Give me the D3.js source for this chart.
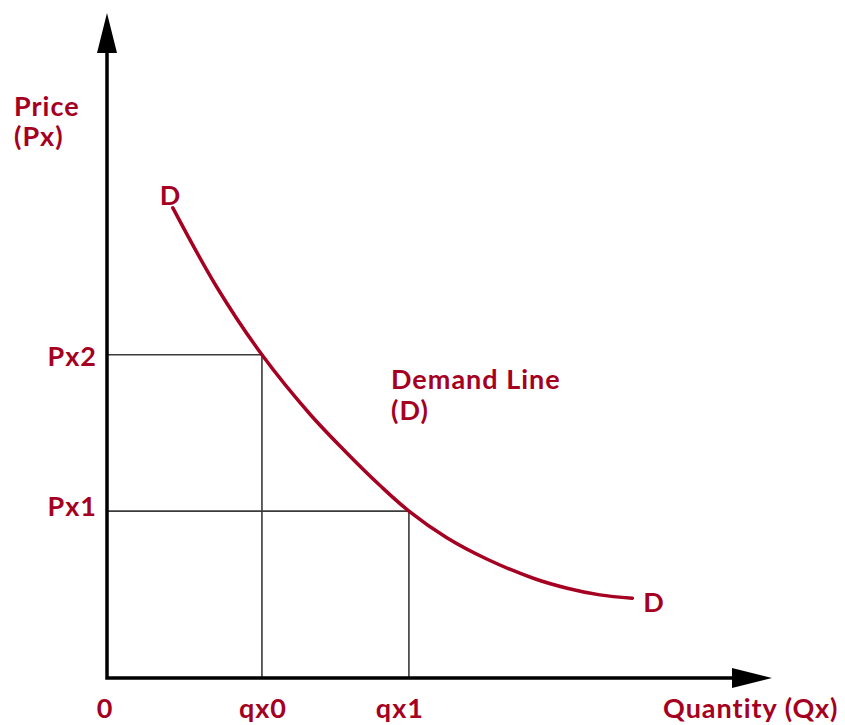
<!DOCTYPE html>
<html>
<head>
  <meta charset="utf-8">
  <script src="https://d3js.org/d3.v7.min.js"></script>
  <style>
    body { margin:0; background:#fff; }
    text { font-family: Lato, "Open Sans", sans-serif; font-weight: 700; fill: #a50021; letter-spacing: 1px; }
  </style>
</head>
<body>
  <div id="chart"></div>
  <script>
    // demand curve (quantity / price, 0-100 units)
    const demandQ = [9.9, 16.5, 23.3, 30.5, 35.8, 41.1, 45.4, 51.1, 57.1, 64.1, 69.2, 74.1, 79.0];
    const demandP = [70.7, 58.8, 48.6, 39.7, 34.1, 28.9, 25.1, 21.1, 17.9, 15.0, 13.5, 12.5, 12.0];

    // reference points on the curve
    const refQ = [23.3, 45.4];
    const refP = [48.6, 25.1];
    const qLabels = ['qx0', 'qx1'];
    const pLabels = ['Px2', 'Px1'];

    const width = 845, height = 725;
    const red = '#a50021';

    const x = d3.scaleLinear().domain([0, 100]).range([107, 772]);
    const y = d3.scaleLinear().domain([0, 100]).range([678, 13]);

    const svg = d3.select('#chart').append('svg')
      .attr('width', width)
      .attr('height', height);

    // guide lines
    const guides = svg.append('g')
      .attr('stroke', '#3a3a3a')
      .attr('stroke-width', 1.6)
      .attr('fill', 'none');

    refQ.forEach((q, i) => {
      guides.append('path')
        .attr('d', `M${x(0)},${y(refP[i])}H${x(q)}V${y(0)}`);
    });

    // axes with arrow heads
    const arrowLen = 40, arrowHalf = 10;
    const axes = svg.append('g');
    axes.append('path')
      .attr('d', `M${x(0)},${y(100) + arrowLen}V${y(0)}H${x(100) - arrowLen}`)
      .attr('fill', 'none')
      .attr('stroke', '#000')
      .attr('stroke-width', 3.5)
      .attr('stroke-linejoin', 'miter');
    axes.append('path')
      .attr('d', `M${x(0)},${y(100)}L${x(0) + arrowHalf},${y(100) + arrowLen}L${x(0) - arrowHalf},${y(100) + arrowLen}Z`)
      .attr('fill', '#000');
    axes.append('path')
      .attr('d', `M${x(100)},${y(0)}L${x(100) - arrowLen},${y(0) - arrowHalf}L${x(100) - arrowLen},${y(0) + arrowHalf}Z`)
      .attr('fill', '#000');

    // demand curve
    const line = d3.line()
      .x(d => x(d[0]))
      .y(d => y(d[1]))
      .curve(d3.curveCatmullRom.alpha(0.5));

    svg.append('path')
      .datum(demandQ.map((q, i) => [q, demandP[i]]))
      .attr('d', line)
      .attr('fill', 'none')
      .attr('stroke', red)
      .attr('stroke-width', 3.5)
      .attr('stroke-linecap', 'round');

    // labels
    const fs = 27;
    const labels = svg.append('g').style('font-size', fs + 'px');

    labels.append('text').attr('x', 14).attr('y', 116).text('Price');
    labels.append('text').attr('x', 14).attr('y', 146).text('(Px)');

    pLabels.forEach((t, i) => {
      labels.append('text')
        .attr('x', x(0) - 10)
        .attr('y', y(refP[i]) + (i === 0 ? 11 : 5))
        .attr('text-anchor', 'end')
        .text(t);
    });

    labels.append('text')
      .attr('x', x(0) - 2).attr('y', 718)
      .attr('text-anchor', 'middle')
      .text('0');

    qLabels.forEach((t, i) => {
      labels.append('text')
        .attr('x', x(refQ[i]) + (i === 0 ? 1 : -9))
        .attr('y', 718)
        .attr('text-anchor', 'middle')
        .text(t);
    });

    labels.append('text').attr('x', 663).attr('y', 718).text('Quantity (Qx)');

    const n = demandQ.length - 1;
    labels.append('text')
      .attr('x', x(demandQ[0]) - 13).attr('y', y(demandP[0]) - 3)
      .text('D');
    labels.append('text')
      .attr('x', x(demandQ[n]) + 11).attr('y', y(demandP[n]) + 14)
      .text('D');

    labels.append('text').attr('x', 391).attr('y', 389).text('Demand Line');
    labels.append('text').attr('x', 391).attr('y', 420).text('(D)');
  </script>
</body>
</html>
